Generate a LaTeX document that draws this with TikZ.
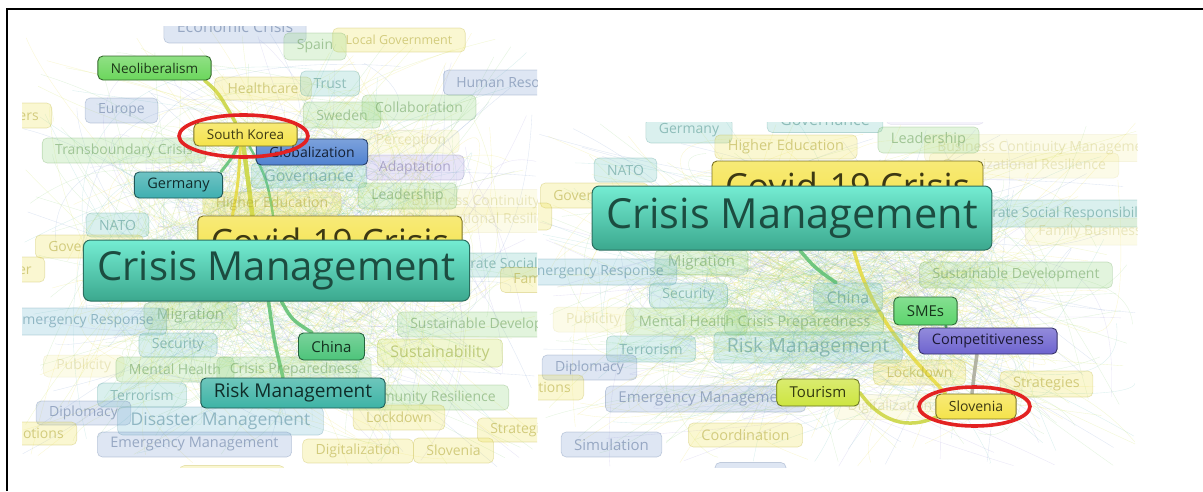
\documentclass[tikz,border=0pt]{standalone}
\usepackage{fontspec}
\setmainfont{Open Sans}
\usetikzlibrary{calc}

% cluster colours (faded labels)
\definecolor{cy}{HTML}{EDE04A}
\definecolor{cg}{HTML}{8FD47A}
\definecolor{ct}{HTML}{6CC6BE}
\definecolor{cb}{HTML}{7C9CD0}
\definecolor{cbt}{HTML}{6FB8D0}
\definecolor{cp}{HTML}{A79BE0}
\definecolor{cl}{HTML}{C9E24A}
% highlighted labels
\definecolor{cyb}{HTML}{F5E34A}
\definecolor{cgb}{HTML}{6BD65C}
\definecolor{cbb}{HTML}{5082D0}
\definecolor{ctb}{HTML}{3FAFB0}
\definecolor{cgc}{HTML}{4DC47A}
\definecolor{ctc}{HTML}{3DB3A5}
\definecolor{cgs}{HTML}{5CD46C}
\definecolor{cpp}{HTML}{6E64CF}
\definecolor{clt}{HTML}{CDE540}
\definecolor{cmt}{HTML}{74ECD2}
\definecolor{cmb}{HTML}{3BA88E}
\definecolor{cmd}{HTML}{2B6F60}
\definecolor{cmx}{HTML}{1C4C40}
% connectors
\definecolor{lyg}{HTML}{C8D43A}
\definecolor{lye}{HTML}{E6DA3C}
\definecolor{lgr}{HTML}{5CC070}
\definecolor{lgy}{HTML}{A8A898}
\definecolor{ring}{HTML}{E32222}

\pgfdeclarelayer{web}
\pgfsetlayers{web,main}

% faint background network of one panel: x0 y0 x1 y1 count
\newcommand\drawweb[5]{%
  \foreach \k in {1,...,#5}{%
    \pgfmathsetmacro\ax{#1+(#3-#1)*(rnd+rnd+rnd)/3}%
    \pgfmathsetmacro\ay{#2+(#4-#2)*(rnd+rnd+rnd)/3}%
    \pgfmathsetmacro\bx{#1+(#3-#1)*rnd}%
    \pgfmathsetmacro\by{#2+(#4-#2)*rnd}%
    \pgfmathsetmacro\mx{#1+(#3-#1)*rnd}%
    \pgfmathsetmacro\my{#2+(#4-#2)*rnd}%
    \pgfmathsetmacro\nx{#1+(#3-#1)*rnd}%
    \pgfmathsetmacro\ny{#2+(#4-#2)*rnd}%
    \pgfmathtruncatemacro\ci{mod(int(8*rnd),8)}%
    \ifcase\ci \def\cc{cy}\or\def\cc{cg}\or\def\cc{ct}\or\def\cc{cb}\or\def\cc{cp}\or\def\cc{cy}\or\def\cc{cg}\else\def\cc{cl}\fi
    \draw[color=\cc, line width=0.35pt, draw opacity=0.25] (\ax,\ay) .. controls (\mx,\my) and (\nx,\ny) .. (\bx,\by);
  }%
}

\begin{document}
\begin{tikzpicture}[x=1pt,y=-1pt,
  fs/.style={font=\fontsize{#1}{#1}\selectfont},
  kw/.style={rounded corners=5pt, inner xsep=13pt, inner ysep=0pt, minimum height=25pt, fs=14},
  gh/.style={kw, draw=#1!80!black, draw opacity=0.35, line width=0.6pt, fill=#1, fill opacity=0.25, text=#1!75!black, text opacity=0.55},
  fnt/.style={kw, draw=#1!80!black, draw opacity=0.15, line width=0.5pt, fill=#1, fill opacity=0.12, text=#1!75!black, text opacity=0.25},
  hot/.style={kw, draw=#1!50!black, line width=0.9pt, top color=#1!75!white, bottom color=#1, text=#1!25!black},
  cmbox/.style={kw, inner xsep=14pt, rounded corners=7pt, draw=cmd, line width=1pt, top color=cmt, bottom color=cmb, text=cmx},
  lnk/.style={draw=#1, line width=3.5pt, line cap=round, draw opacity=0.85},
  halo/.style={draw=ring, line width=3.6pt}
]
\useasboundingbox (0,0) rectangle (1203,491);
\begin{pgfonlayer}{web}
  \fill[white] (0,0) rectangle (1203,491);
\end{pgfonlayer}

% frame
\draw[line width=1.8pt] (7,491) -- (7,9) -- (1203,9);

%% ---------------- left panel ----------------
\begin{scope}
\clip (22,26) rectangle (537,467);
\node[gh=cb, fs=16, minimum height=32] (ec) at (235,27) {Economic Crisis};
\node[gh=cy, fs=12.5, minimum height=24] (lgov) at (399,40) {Local Government};
\node[gh=cg, minimum height=27] (spain) at (315,46.5) {Spain};
\node[gh=cy, minimum height=23] (hc) at (263,88.5) {Healthcare};
\node[gh=ct] (trust) at (330,83.5) {Trust};
\node[gh=cb, anchor=west] (hr) at (443,82.5) {Human Resources};
\node[gh=cg, minimum height=26] (swe) at (342,115) {Sweden};
\node[gh=cg] (coll) at (419,107.5) {Collaboration};
\node[gh=cy, anchor=east] (ldrs) at (52,115.5) {Leaders};
\node[gh=cb] (eur) at (121.5,110.5) {Europe};
\node[gh=cg] (tbc) at (124,150.5) {Transboundary Crisis};
\node[fnt=cy, minimum height=23] (perc) at (411,141.5) {Perception};
\node[gh=ct, fs=16] (gov) at (309,175.5) {Governance};
\node[gh=cp] (adap) at (415,167.5) {Adaptation};
\node[gh=cy, minimum height=23] (he) at (272,203.5) {Higher Education};
\node[fnt=cy, anchor=west] (bcm) at (398,202) {Business Continuity Management};
\node[fnt=cy, anchor=west] (ores) at (391,220) {Organizational Resilience};
\node[gh=cg, minimum height=26] (ldr) at (407.5,196) {Leadership};
\node[gh=ct, minimum height=24] (nato) at (117.5,225) {NATO};
\node[gh=cy, anchor=west, minimum height=23] (govt) at (35,246.5) {Government};
\node[gh=cy, anchor=east] (pow) at (45,269.5) {Power};
\node[gh=ct, anchor=west, minimum height=24] (csr) at (417,265) {Corporate Social Responsibility};
\node[gh=cy, anchor=west] (fb) at (500,280) {Family Business};
\node[gh=cg, anchor=west] (sdev) at (397,324.5) {Sustainable Development};
\node[gh=cg, fs=15, minimum height=27] (mig) at (190.5,316) {Migration};
\node[gh=cbt, anchor=east, minimum height=27] (eres) at (167,321.5) {Emergency Response};
\node[gh=ct, minimum height=24] (sec) at (178,345) {Security};
\node[fnt=cy, anchor=west, minimum height=22] (pub) at (43,366) {Publicity};
\node[gh=cg] (mh) at (175,369.5) {Mental Health};
\node[gh=cg, minimum height=26] (cprep) at (294,370) {Crisis Preparedness};
\node[gh=cl, fs=16, minimum height=28] (sus) at (440,353) {Sustainability};
\node[gh=ct, minimum height=24] (terr) at (142,395) {Terrorism};
\node[gh=cg, anchor=east] (cres) at (509,397.5) {Community Resilience};
\node[gh=cb, minimum height=24] (dip) at (83.5,413) {Diplomacy};
\node[gh=cbt, fs=17.5, minimum height=28] (dm) at (220.5,421) {Disaster Management};
\node[gh=cy] (lock) at (399,417.5) {Lockdown};
\node[gh=cy, anchor=west, minimum height=24] (strat) at (477,430) {Strategies};
\node[gh=cy, anchor=east, minimum height=23] (emo) at (77,433.5) {Emotions};
\node[gh=cb, fs=14.5] (em) at (194.5,444.5) {Emergency Management};
\node[gh=cy, minimum height=24] (dig) at (358,451) {Digitalization};
\node[gh=cy] (slo0) at (453.5,450.5) {Slovenia};
\node[gh=cy, minimum width=105] (ylw) at (232,478) {};
% highlighted labels
\node[hot=cyb, fs=35, minimum height=50] (cov) at (330,241) {Covid-19 Crisis};
\node[cmbox, fs=40, minimum height=61] (cm) at (276.5,270.5) {Crisis Management};
\node[hot=cgb, fs=13.5, minimum height=24] (neo) at (154.5,68) {Neoliberalism};
\node[hot=cbb, minimum height=26] (glob) at (312,152) {Globalization};
\node[hot=cyb, fs=13.5, minimum height=23] (sk) at (245.5,134.5) {South Korea};
\node[hot=ctb, fs=14.5, minimum height=26] (ger) at (178.5,185) {Germany};
\node[hot=cgc, fs=15, minimum height=27] (china) at (331.5,346.5) {China};
\node[hot=ctc, fs=19, minimum height=30] (rm) at (293,393) {Risk Management};
\end{scope}
\draw[halo] ($(sk.center)+(-2,1.5)$) ellipse [x radius=64.5, y radius=21];

\begin{pgfonlayer}{web}
\begin{scope}
\clip (22,26) rectangle (537,467);
\pgfmathsetseed{4711}
\drawweb{22}{26}{537}{467}{420}
\draw[lnk=lyg] ($(neo.south east)+(-7,0)$) .. controls (218,92) .. ($(sk.north)+(-10,0)$);
\draw[lnk=lgr, line width=3pt] ($(sk.south)+(-8,0)$) .. controls (232,158) .. ($(ger.north east)+(-2,0)$);
\draw[lnk=lyg, line width=4.5pt] ($(sk.south)+(-2,0)$) .. controls (248,180) .. ($(cov.north west)+(55,0)$);
\draw[lnk=lye, line width=3pt] ($(sk.south)+(-5,0)$) .. controls (238,185) .. ($(cov.north west)+(35,0)$);
\draw[lnk=lgr, line width=2.5pt] ($(sk.south)+(4,0)$) .. controls (268,180) .. (cm.north);
\draw[lnk=lgr] ($(cm.south)+(5,0)$) .. controls (292,320) .. ($(china.north west)+(14,0)$);
\draw[lnk=lgr] ($(cm.south)+(-8,0)$) .. controls (274,340) .. ($(rm.north)+(-10,0)$);
\end{scope}
\end{pgfonlayer}

%% ---------------- right panel ----------------
\begin{scope}
\clip (538,122) rectangle (1137,467);
\node[gh=ct, minimum height=25] (ger2) at (689,130.5) {Germany};
\node[gh=ct, fs=16] (gov2) at (825,120) {Governance};
\node[fnt=cp] (adap2) at (935,112) {Adaptation};
\node[gh=cy, fs=14.5, minimum height=24] (he2) at (786,147) {Higher Education};
\node[fnt=cy, anchor=west, minimum height=27] (bcm2) at (924,148) {Business Continuity Management};
\node[fnt=cy, anchor=west] (ores2) at (929,165.5) {Organizational Resilience};
\node[gh=cg, fs=14.5, minimum height=26] (ldr2) at (928.5,140) {Leadership};
\node[gh=ct, minimum height=24] (nato2) at (625.5,170) {NATO};
\node[gh=cy, anchor=west] (govt2) at (540,195.5) {Government};
\node[gh=cy, anchor=east, minimum height=27] (pow2) at (552,216.5) {Power};
\node[gh=ct, anchor=west, minimum height=27] (csr2) at (939,213.5) {Corporate Social Responsibility};
\node[fnt=cy, anchor=west, minimum height=27] (fb2) at (1025,231.5) {Family Business};
\node[gh=cg, fs=15] (mig2) at (701.5,262.5) {Migration};
\node[gh=cbt, anchor=east, minimum height=26] (eres2) at (677,272) {Emergency Response};
\node[gh=cg, minimum height=26] (sdev2) at (1016,275) {Sustainable Development};
\node[gh=ct] (sec2) at (688.5,295.5) {Security};
\node[gh=ct, fs=16, minimum height=29] (china2) at (848,297.5) {China};
\node[fnt=cy] (pub2) at (593.5,319.5) {Publicity};
\node[gh=cg, fs=14.5, minimum height=27] (mh2) at (686.5,321.5) {Mental Health};
\node[gh=cg, fs=14.5] (cprep2) at (804,322.5) {Crisis Preparedness};
\node[gh=ct, minimum height=26] (terr2) at (651,349) {Terrorism};
\node[gh=ct, fs=19.5, minimum height=31] (rm2) at (808,347.5) {Risk Management};
\node[gh=cb] (dip2) at (589.5,367.5) {Diplomacy};
\node[gh=cy] (lock2) at (919.5,372.5) {Lockdown};
\node[gh=cy, anchor=east] (emo2) at (584,387.5) {Emotions};
\node[gh=cb, fs=15, minimum height=26] (em2) at (705.5,399) {Emergency Management};
\node[gh=cy, fs=14.5, minimum height=26] (strat2) at (1046.5,384) {Strategies};
\node[fnt=cy] (dig2) at (890,407) {Digitalization};
\node[gh=cy, fs=14.5, minimum height=24] (coord2) at (745.5,435) {Coordination};
\node[gh=cb, fs=15] (sim2) at (611.5,444.5) {Simulation};
\node[gh=cb, minimum width=71] (blu2) at (750.5,475) {};
% highlighted labels
\node[hot=cyb, fs=36, minimum height=50] (cov2) at (847.5,186) {Covid-19 Crisis};
\node[cmbox, fs=41.5, minimum height=64] (cm2) at (792,218) {Crisis Management};
\node[hot=cgs, fs=15, minimum height=28] (sme) at (925.5,311) {SMEs};
\node[hot=cpp, fs=14.5, minimum height=26] (comp) at (988,341) {Competitiveness};
\node[hot=clt, fs=15, minimum height=27] (tour) at (818,392.5) {Tourism};
\node[hot=cyb, minimum height=25] (slo) at (976,406.5) {Slovenia};
\end{scope}
\draw[halo] ($(slo.center)+(-1.5,0)$) ellipse [x radius=55.5, y radius=19.5];

\begin{pgfonlayer}{web}
\begin{scope}
\clip (538,122) rectangle (1137,467);
\pgfmathsetseed{815}
\drawweb{538}{122}{1137}{467}{420}
\draw[lnk=lgr] ($(cm2.south)+(8,0)$) .. controls (815,268) .. ($(china2.north)+(-12,0)$);
\draw[lnk=lye] ($(cm2.south)+(62,0)$) .. controls (872,320) and (915,360) .. ($(slo.north west)+(10,0)$);
\draw[lnk=lyg] (tour.east) .. controls (885,428) and (915,428) .. ($(slo.south west)+(4,-4)$);
\draw[lnk=cgs!70!black, line width=2.5pt] ($(sme.south)+(20,0)$) -- ($(comp.north west)+(28,0)$);
\draw[lnk=lgy] ($(comp.south)+(-11,0)$) .. controls (974,375) .. ($(slo.north)+(-4,0)$);
\end{scope}
\end{pgfonlayer}
\end{tikzpicture}
\end{document}
